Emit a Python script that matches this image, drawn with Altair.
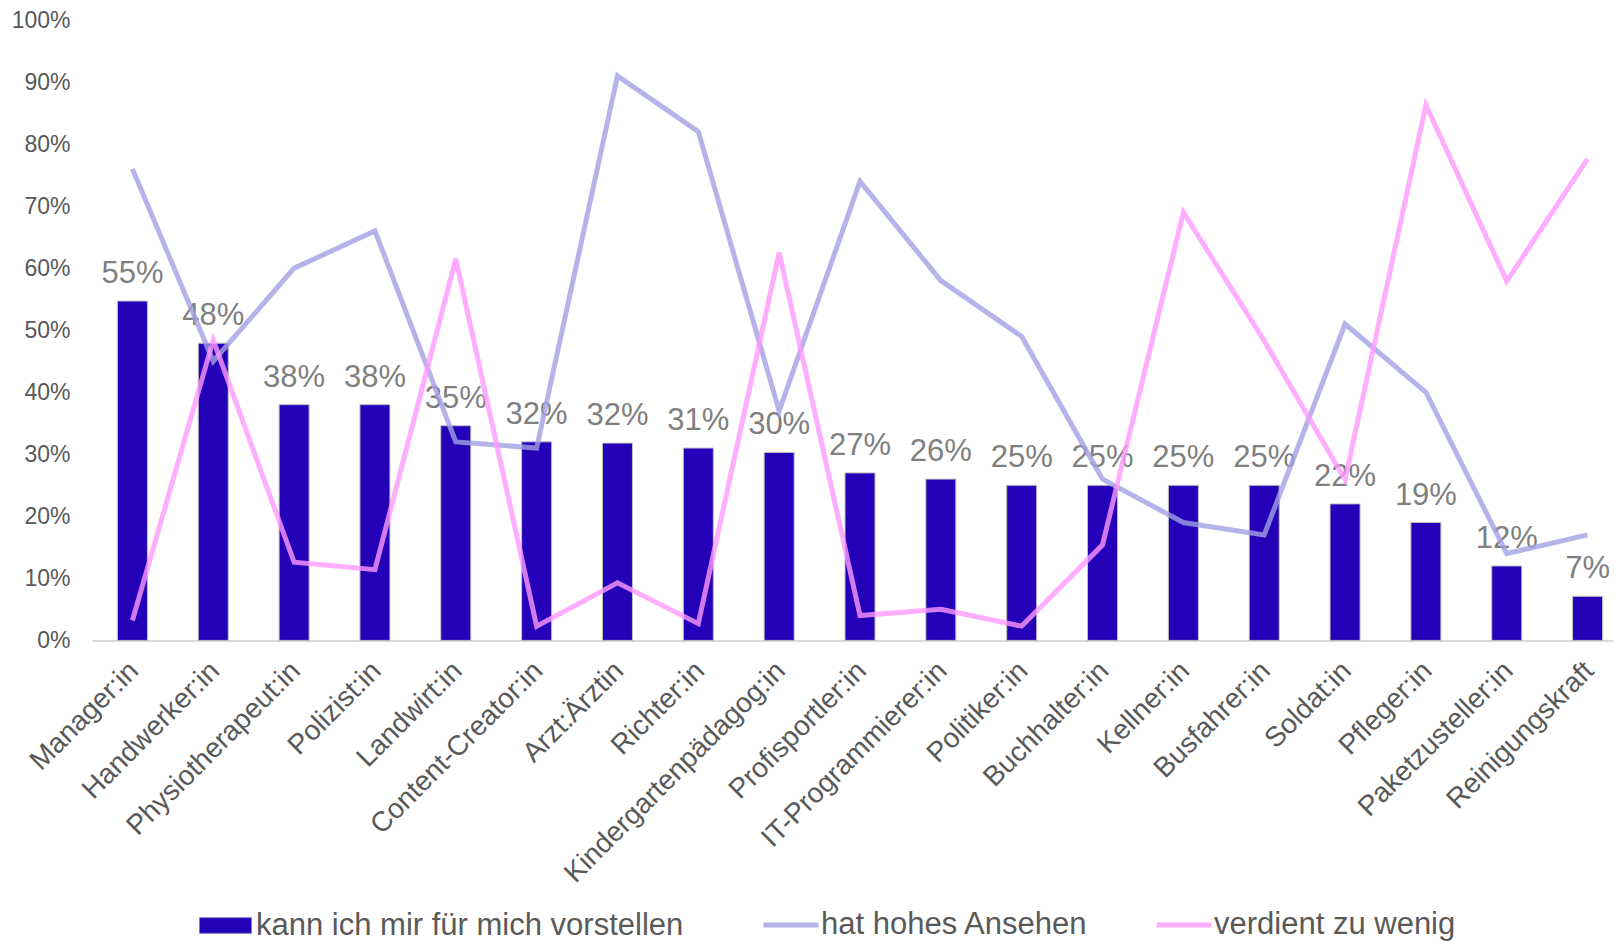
import altair as alt
import pandas as pd

# ---- data ----
categories = ["Manager:in", "Handwerker:in", "Physiotherapeut:in", "Polizist:in", "Landwirt:in",
              "Content-Creator:in", "Arzt:Ärztin", "Richter:in", "Kindergartenpädagog:in",
              "Profisportler:in", "IT-Programmierer:in", "Politiker:in", "Buchhalter:in",
              "Kellner:in", "Busfahrer:in", "Soldat:in", "Pfleger:in", "Paketzusteller:in",
              "Reinigungskraft"]
vorstellen = [0.547, 0.479, 0.38, 0.38, 0.346, 0.32, 0.318, 0.31, 0.303, 0.27, 0.26, 0.25,
              0.25, 0.25, 0.25, 0.22, 0.19, 0.12, 0.071]
ansehen = [0.76, 0.45, 0.60, 0.66, 0.32, 0.31, 0.91, 0.82, 0.37, 0.74, 0.58, 0.49, 0.26,
           0.19, 0.17, 0.51, 0.40, 0.14, 0.17]
wenig = [0.032, 0.484, 0.126, 0.114, 0.615, 0.023, 0.093, 0.027, 0.625, 0.040, 0.050, 0.023,
         0.154, 0.690, 0.483, 0.259, 0.863, 0.579, 0.776]
y_ticks = [0, 0.1, 0.2, 0.3, 0.4, 0.5, 0.6, 0.7, 0.8, 0.9, 1.0]

S1 = "kann ich mir für mich vorstellen"
S2 = "hat hohes Ansehen"
S3 = "verdient zu wenig"

bar_df = pd.DataFrame({"Beruf": categories, "wert": vorstellen, "serie": [S1] * len(categories)})
line_df = pd.DataFrame({
    "Beruf": categories * 2,
    "wert": ansehen + wenig,
    "serie": [S2] * len(categories) + [S3] * len(categories),
})

FONT = "Liberation Sans"

x_enc = alt.X(
    "Beruf:N", sort=categories,
    scale=alt.Scale(range=[0, 1536], paddingInner=0, paddingOuter=0),
    axis=alt.Axis(title=None, labelAngle=-45, labelAlign="right", labelBaseline="middle",
                  labelFontSize=28, labelColor="#595959", labelFont=FONT, labelPadding=26,
                  labelOffset=2, labelLimit=600, ticks=False, domainColor="#d9d9d9",
                  domainWidth=2),
)
y_scale = alt.Scale(domain=[0, 1])
y_axis = alt.Axis(title=None, format=".0%", values=y_ticks, grid=False, domain=False,
                  ticks=False, labelFontSize=23, labelColor="#595959", labelFont=FONT,
                  labelPadding=22)

bars = alt.Chart(bar_df).mark_bar(width=30, stroke="#bfbfbf", strokeWidth=1).encode(
    x=x_enc,
    y=alt.Y("wert:Q", scale=y_scale, axis=y_axis),
    fill=alt.Fill("serie:N", scale=alt.Scale(domain=[S1], range=["#2400b8"]),
                  legend=alt.Legend(title=None, orient="none", legendX=107, legendY=879,
                                    symbolType="M-1,-0.3H1V0.3H-1Z", symbolSize=2704,
                                    symbolStrokeColor="#7f7fd0", symbolStrokeWidth=1,
                                    labelFontSize=31, labelColor="#595959", labelFont=FONT,
                                    labelOffset=4, labelLimit=800, padding=0)),
)

labels = alt.Chart(bar_df).mark_text(dy=-18, baseline="alphabetic", fontSize=31,
                                     color="#7f7f7f", font=FONT).encode(
    x=x_enc,
    y=alt.Y("wert:Q", scale=y_scale),
    text=alt.Text("wert:Q", format=".0%"),
)

lines = alt.Chart(line_df).mark_line(strokeWidth=5, opacity=0.8).encode(
    x=x_enc,
    y=alt.Y("wert:Q", scale=y_scale),
    stroke=alt.Stroke("serie:N", scale=alt.Scale(domain=[S2, S3], range=["#a3a0e4", "#ff99ff"]),
                      legend=alt.Legend(title=None, orient="none", legendX=669, legendY=875,
                                        direction="horizontal", symbolType="stroke",
                                        symbolSize=3025, symbolStrokeWidth=5,
                                        labelFontSize=31, labelColor="#595959", labelFont=FONT,
                                        labelOffset=0, labelLimit=800, columnPadding=57,
                                        padding=0)),
)

chart = alt.layer(bars, labels, lines).properties(
    width=1521, height=620.4,
    padding={"left": 84, "top": 12, "right": 0, "bottom": 303.6},
    autosize=alt.AutoSizeParams(type="none"),
).configure_view(stroke=None)

chart.save("out.html", embed_options={"renderer": "svg", "actions": False})
